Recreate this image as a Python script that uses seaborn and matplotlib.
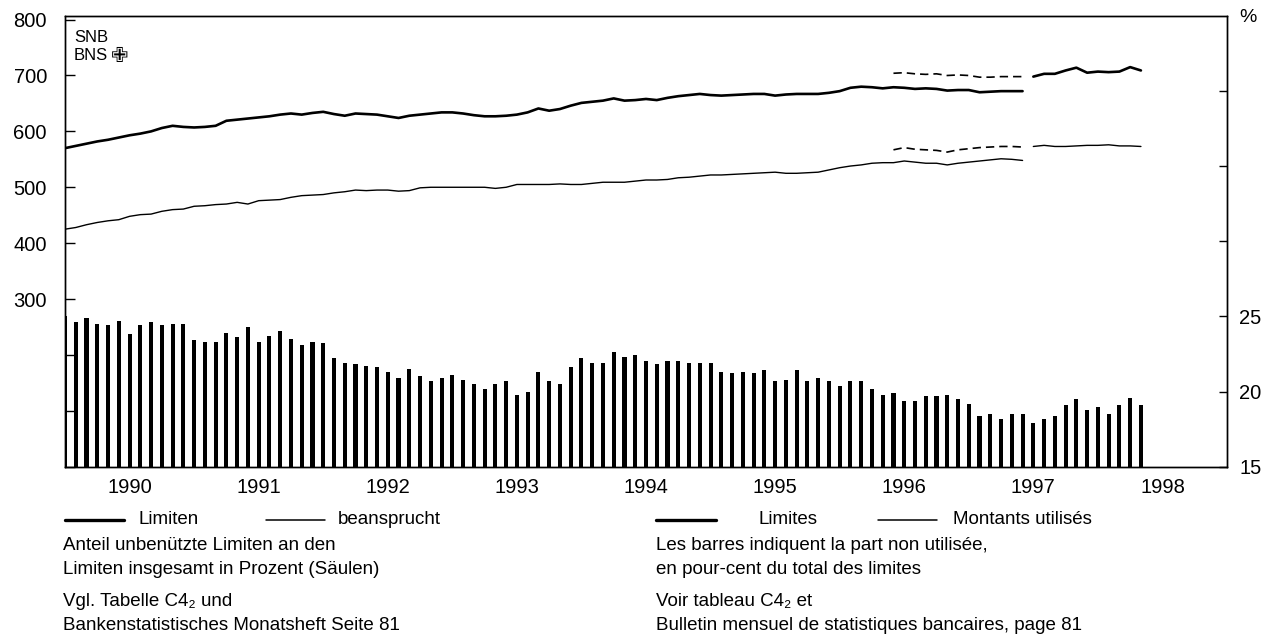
import numpy as np
import pandas as pd
import matplotlib
matplotlib.use("Agg")
import matplotlib.pyplot as plt
import seaborn as sns
from matplotlib.lines import Line2D

# ---------------- data (month index 0 = end of Dec 1989) ----------------
limiten_old = [
    570, 574, 578, 582, 585, 589, 593, 596, 600, 606, 610, 608,
    607, 608, 610, 619, 621, 623, 625, 627, 630, 632, 630, 633,
    635, 631, 628, 632, 631, 630, 627, 624, 628, 630, 632, 634,
    634, 632, 629, 627, 627, 628, 630, 634, 641, 637, 640, 646,
    651, 653, 655, 659, 655, 656, 658, 656, 660, 663, 665, 667,
    665, 664, 665, 666, 667, 667, 664, 666, 667, 667, 667, 669,
    672, 678, 680, 679, 677, 679, 678, 676, 677, 676, 673, 674,
    674, 670, 671, 672, 672, 672,
]
beansprucht_old = [
    425, 428, 433, 437, 440, 442, 448, 451, 452, 457, 460, 461,
    466, 467, 469, 470, 473, 470, 476, 477, 478, 482, 485, 486,
    487, 490, 492, 495, 494, 495, 495, 493, 494, 499, 500, 500,
    500, 500, 500, 500, 498, 500, 505, 505, 505, 505, 506, 505,
    505, 507, 509, 509, 509, 511, 513, 513, 514, 517, 518, 520,
    522, 522, 523, 524, 525, 526, 527, 525, 525, 526, 527, 531,
    535, 538, 540, 543, 544, 544, 547, 545, 543, 543, 540, 543,
    545, 547, 549, 551, 550, 548,
]
# new statistical basis (dashed overlap, months 77..89)
limiten_overlap = [704, 705, 703, 702, 703, 700, 701, 700, 697, 697, 698, 698, 698]
beansprucht_overlap = [567, 571, 568, 567, 566, 563, 567, 569, 571, 572, 573, 573, 572]
# new basis continued (months 90..100)
limiten_new = [698, 703, 703, 709, 714, 705, 707, 706, 707, 715, 709]
beansprucht_new = [573, 575, 573, 573, 574, 575, 575, 576, 574, 574, 573]
# unused share of limits in percent (bars, months 0..100)
unused_share = [
    25.0, 24.6, 24.9, 24.5, 24.4, 24.7, 23.8, 24.4, 24.6, 24.4, 24.5, 24.5,
    23.4, 23.3, 23.3, 23.9, 23.6, 24.3, 23.3, 23.7, 24.0, 23.5, 23.1, 23.3,
    23.2, 22.2, 21.9, 21.8, 21.7, 21.6, 21.3, 20.9, 21.5, 21.0, 20.7, 20.9,
    21.1, 20.8, 20.5, 20.2, 20.5, 20.7, 19.8, 20.0, 21.3, 20.7, 20.5, 21.6,
    22.2, 21.9, 21.9, 22.6, 22.3, 22.4, 22.0, 21.8, 22.0, 22.0, 21.9, 21.9,
    21.9, 21.3, 21.2, 21.3, 21.2, 21.4, 20.7, 20.8, 21.4, 20.7, 20.9, 20.7,
    20.4, 20.7, 20.7, 20.2, 19.8, 19.9, 19.4, 19.4, 19.7, 19.7, 19.8, 19.5,
    19.2, 18.4, 18.5, 18.2, 18.5, 18.5, 17.9, 18.2, 18.4, 19.1, 19.5, 18.8,
    19.0, 18.5, 19.1, 19.6, 19.1,
]
year_labels = ["1990", "1991", "1992", "1993", "1994", "1995", "1996", "1997", "1998"]
left_tick_labels = ["", "", "", "300", "400", "500", "600", "700", "800"]
right_tick_labels = ["15", "20", "25", "", "", ""]


def to_year(start, n):
    return [1990 + (start + i) / 12 for i in range(n)]


# ---------------- style ----------------
sns.set_theme(style="white")
FAM = ["Liberation Sans", "DejaVu Sans"]
plt.rcParams["font.family"] = FAM
plt.rcParams["axes.edgecolor"] = "black"
plt.rcParams["text.color"] = "black"
plt.rcParams["xtick.color"] = "black"
plt.rcParams["ytick.color"] = "black"

W, H = 1264, 639
fig = plt.figure(figsize=(W / 100, H / 100), dpi=100)
L, R, T, B = 65, 1227, 15.7, 466.7
ax = fig.add_axes([L / W, 1 - B / H, (R - L) / W, (B - T) / H])
ax2 = ax.twinx()

# bars (right axis)
bars = pd.DataFrame({"x": to_year(0, len(unused_share)), "v": unused_share})
sns.barplot(data=bars, x="x", y="v", ax=ax2, native_scale=True, color="black",
            saturation=1, width=0.38, errorbar=None, linewidth=0)

# lines (left axis)
def line(start, vals, lw, ls="-"):
    d = pd.DataFrame({"x": to_year(start, len(vals)), "v": vals})
    sns.lineplot(data=d, x="x", y="v", ax=ax, color="black", linewidth=lw,
                 linestyle=ls, errorbar=None, sort=True)

line(0, limiten_old, 1.9)
line(0, beansprucht_old, 1.0)
line(77, limiten_overlap, 1.2, (0, (5, 3)))
line(77, beansprucht_overlap, 1.2, (0, (5, 3)))
line(90, limiten_new, 1.9)
line(90, beansprucht_new, 1.0)

# axes formatting
ax.set_xlim(1990, 1999)
ax.set_ylim(0, 807)
ax2.set_ylim(15, 45)
ax.set_xlabel("")
ax.set_ylabel("")
ax2.set_ylabel("")

ax.set_xticks(range(1990, 2000))
ax.set_xticklabels([])
ax.set_xticks([1990.5 + i for i in range(len(year_labels))], minor=True)
ax.set_xticklabels(year_labels, minor=True)
ax.tick_params(axis="x", which="major", direction="out", length=6, width=1)
ax.tick_params(axis="x", which="minor", length=0, pad=8, labelsize=14.5)

ax.set_yticks(range(0, 900, 100))
ax.set_yticklabels(left_tick_labels)
ax.tick_params(axis="y", direction="in", length=7, width=1, pad=13, labelsize=14.5)

ax2.set_yticks(range(15, 45, 5))
ax2.set_yticklabels(right_tick_labels)
ax2.tick_params(axis="y", direction="in", length=6, width=1, pad=9, labelsize=14.5)

for a in (ax, ax2):
    for s in a.spines.values():
        s.set_visible(True)
        s.set_color("black")
        s.set_linewidth(1.0)

# ---------------- annotations ----------------
def fx(px):
    return px / W


def fy(py):
    return 1 - py / H


fig.text(fx(1239), fy(17), "%", fontsize=14, va="center", ha="left")
fig.text(fx(74), fy(38), "SNB", fontsize=12, va="center", ha="left")
fig.text(fx(74), fy(56), "BNS", fontsize=12, va="center", ha="left")
fig.text(fx(111), fy(56), "\u2719", fontsize=15, va="center", ha="left", family=["DejaVu Sans"])

def legline(x0, x1, y, lw):
    fig.add_artist(Line2D([fx(x0), fx(x1)], [fy(y), fy(y)], transform=fig.transFigure,
                          color="black", linewidth=lw))

TS = 13.5
legline(65, 124, 520, 2.4)
fig.text(fx(139), fy(520), "Limiten", fontsize=TS, va="center")
legline(266, 325, 520, 1.1)
fig.text(fx(338), fy(520), "beansprucht", fontsize=TS, va="center")
fig.text(fx(63), fy(545), "Anteil unbenützte Limiten an den", fontsize=TS, va="center")
fig.text(fx(63), fy(569), "Limiten insgesamt in Prozent (Säulen)", fontsize=TS, va="center")
fig.text(fx(63), fy(602), "Vgl. Tabelle C4\u2082 und", fontsize=TS, va="center")
fig.text(fx(63), fy(626), "Bankenstatistisches Monatsheft Seite 81", fontsize=TS, va="center")

legline(656, 716, 520, 2.4)
fig.text(fx(758), fy(520), "Limites", fontsize=TS, va="center")
legline(878, 937, 520, 1.1)
fig.text(fx(953), fy(520), "Montants utilisés", fontsize=TS, va="center")
fig.text(fx(656), fy(545), "Les barres indiquent la part non utilisée,", fontsize=TS, va="center")
fig.text(fx(656), fy(569), "en pour-cent du total des limites", fontsize=TS, va="center")
fig.text(fx(656), fy(602), "Voir tableau C4\u2082 et", fontsize=TS, va="center")
fig.text(fx(656), fy(626), "Bulletin mensuel de statistiques bancaires, page 81", fontsize=TS, va="center")

fig.savefig("out.png", dpi=100)
